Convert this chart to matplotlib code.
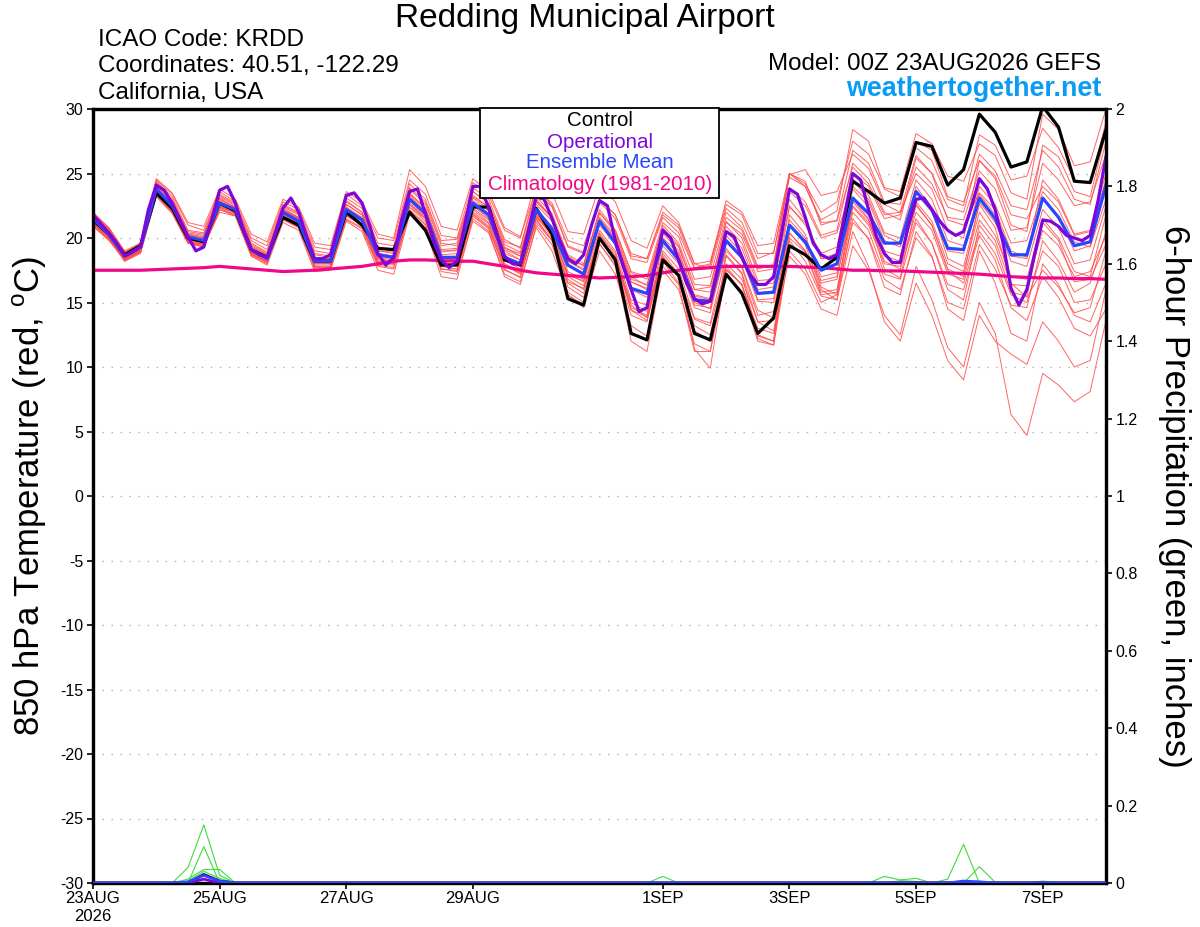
import numpy as np
import matplotlib
matplotlib.use("Agg")
import matplotlib.pyplot as plt
from matplotlib.patches import Rectangle

plt.rcParams['font.family'] = ['Liberation Sans', 'DejaVu Sans']
plt.rcParams['axes.unicode_minus'] = False
plt.rcParams['mathtext.fontset'] = 'custom'
plt.rcParams['mathtext.rm'] = 'Liberation Sans'

# ---------------- data ----------------
tick_pos = [0, 8, 16, 24, 36, 44, 52, 60]          # 6-hourly step index
tick_labels = ["23AUG\n2026", "25AUG", "27AUG", "29AUG", "1SEP", "3SEP", "5SEP", "7SEP"]

control = [21.4, 20.3, 18.7, 19.4, 23.5, 22.3, 20.0, 19.7, 22.7, 22.1, 19.1, 18.5, 21.6, 21.0, 18.2, 18.2,
           22.0, 21.0, 19.2, 19.1, 22.0, 20.6, 17.9, 17.9, 22.4, 22.4, 18.3, 17.9, 22.3, 20.3, 15.3, 14.8,
           20.0, 18.3, 12.6, 12.1, 18.3, 17.1, 12.6, 12.1, 17.2, 15.7, 12.6, 13.8, 19.4, 18.7, 17.6, 18.5,
           24.4, 23.6, 22.7, 23.1, 27.4, 27.1, 24.1, 25.3, 29.6, 28.2, 25.5, 25.9, 30.2, 28.6, 24.4, 24.3, 28.4]

ens_mean = [21.5, 20.3, 18.6, 19.3, 23.8, 22.5, 20.1, 19.8, 22.7, 22.2, 19.1, 18.4, 22.0, 21.3, 18.2, 18.2,
            22.2, 21.4, 18.7, 18.5, 23.0, 21.9, 18.5, 18.5, 22.7, 21.8, 18.5, 18.0, 22.2, 20.7, 17.9, 17.2,
            21.3, 19.6, 16.1, 15.7, 19.8, 18.3, 15.2, 15.1, 19.8, 18.5, 15.7, 15.8, 21.0, 19.7, 17.5, 18.0,
            23.1, 21.9, 19.6, 19.6, 23.6, 22.2, 19.2, 19.1, 23.1, 21.5, 18.7, 18.7, 23.1, 21.6, 19.4, 19.7, 24.1]

# operational run, 3-hourly
operational = [21.8, 21.1, 20.4, 19.6, 18.6, 18.9, 19.3, 22.2, 24.1, 23.7, 22.7, 21.4, 20.1, 19.0, 19.3, 21.4,
               23.7, 24.0, 22.7, 20.6, 19.1, 18.7, 18.5, 20.3, 22.3, 23.1, 22.0, 20.1, 18.4, 18.4, 18.7, 20.9,
               23.3, 23.5, 22.7, 20.9, 18.8, 17.9, 18.5, 21.4, 23.6, 23.8, 21.9, 19.8, 18.3, 17.7, 18.2, 21.1,
               24.0, 24.0, 22.3, 20.3, 18.6, 18.0, 18.0, 20.5, 23.2, 23.0, 21.5, 19.8, 18.4, 18.0, 18.7, 21.0,
               22.9, 22.5, 19.8, 17.8, 16.0, 14.3, 14.6, 17.8, 20.6, 20.0, 18.3, 16.5, 15.3, 14.9, 15.1, 17.8,
               20.5, 20.1, 18.5, 17.2, 16.4, 16.4, 17.0, 20.3, 23.8, 23.4, 21.6, 19.6, 18.7, 18.4, 18.7, 21.9,
               25.0, 24.5, 22.2, 20.1, 18.8, 18.1, 18.1, 20.9, 23.0, 23.1, 22.2, 21.3, 20.6, 20.2, 20.5, 22.4,
               24.6, 23.8, 22.2, 19.6, 16.1, 14.8, 16.0, 18.8, 21.4, 21.3, 20.9, 20.2, 20.0, 19.8, 20.2, 22.9,
               26.3]

climatology = [17.5, 17.5, 17.5, 17.5, 17.55, 17.6, 17.65, 17.7, 17.8, 17.7, 17.6, 17.5, 17.4, 17.45, 17.5, 17.6,
               17.7, 17.8, 18.0, 18.2, 18.3, 18.3, 18.25, 18.2, 18.2, 18.0, 17.8, 17.5, 17.3, 17.2, 17.1, 17.0,
               16.9, 16.95, 17.0, 17.1, 17.3, 17.5, 17.6, 17.7, 17.8, 17.8, 17.8, 17.8, 17.8, 17.75, 17.7, 17.6,
               17.5, 17.5, 17.45, 17.45, 17.4, 17.35, 17.3, 17.25, 17.2, 17.1, 17.0, 16.95, 16.9, 16.9, 16.85, 16.85, 16.8]

m01 = [21.8, 20.6, 18.8, 19.5, 24.3, 23.0, 20.5, 20.3, 23.3, 22.6, 19.6, 18.9, 22.5, 21.9, 18.8, 18.6, 22.9, 22.0, 19.3, 19.0, 23.8, 22.6, 19.4, 19.6, 23.9, 23.0, 19.9, 19.2, 23.6, 22.4, 19.3, 18.8, 22.8, 21.5, 18.4, 18.1, 21.6, 20.4, 17.6, 17.9, 22.3, 21.2, 18.4, 18.9, 24.7, 24.0, 21.4, 22.1, 28.4, 27.5, 23.9, 23.6, 28.1, 27.3, 24.8, 24.4, 27.3, 26.4, 23.5, 23.0, 29.6, 28.4, 25.6, 25.9, 30.0]
m02 = [21.2, 20.0, 18.3, 19.0, 23.5, 22.2, 19.8, 19.5, 22.4, 21.9, 18.8, 18.1, 21.6, 21.0, 17.9, 17.9, 21.7, 21.0, 18.2, 18.0, 22.4, 21.5, 18.0, 17.9, 22.0, 21.1, 17.9, 17.2, 21.5, 19.8, 16.8, 16.0, 20.0, 18.5, 15.0, 14.3, 18.5, 17.0, 13.7, 13.2, 17.8, 16.3, 13.0, 12.6, 18.6, 17.2, 14.5, 14.0, 19.4, 17.5, 14.0, 12.5, 17.8, 15.2, 11.5, 10.0, 15.0, 12.6, 6.3, 4.7, 9.5, 8.6, 7.3, 8.1, 13.6]
m03 = [21.0, 19.9, 18.2, 18.8, 23.2, 21.9, 19.6, 19.4, 22.0, 21.7, 18.6, 17.9, 21.2, 20.6, 17.4, 17.5, 21.3, 20.5, 17.5, 17.2, 21.8, 20.7, 17.0, 16.8, 21.5, 20.5, 17.0, 16.4, 21.0, 19.5, 15.8, 15.0, 19.5, 18.0, 14.0, 13.5, 18.6, 17.0, 13.2, 12.5, 18.0, 16.8, 13.5, 12.8, 19.8, 18.2, 15.5, 15.2, 20.5, 17.8, 13.5, 12.0, 16.5, 14.0, 10.5, 9.0, 14.0, 12.0, 11.0, 10.2, 13.5, 12.0, 10.0, 10.5, 16.0]
m04 = [21.6, 20.4, 18.7, 19.4, 23.9, 22.7, 20.3, 20.0, 22.9, 22.4, 19.4, 18.7, 22.3, 21.6, 18.5, 18.4, 22.6, 21.8, 19.0, 18.9, 23.5, 22.3, 19.0, 19.0, 23.2, 22.4, 19.3, 18.6, 23.0, 21.6, 18.6, 17.8, 22.2, 20.6, 17.3, 16.8, 20.8, 19.4, 16.0, 15.8, 20.9, 19.6, 16.4, 16.5, 22.5, 21.0, 18.8, 19.3, 25.0, 24.0, 21.5, 21.8, 25.5, 24.2, 21.6, 21.4, 25.2, 23.8, 20.6, 20.8, 25.8, 24.5, 22.5, 22.8, 26.5]
m05 = [20.9, 19.8, 18.4, 19.0, 23.4, 22.0, 19.6, 19.3, 22.2, 21.7, 18.6, 18.0, 21.5, 20.8, 17.6, 17.6, 21.4, 20.7, 17.8, 17.6, 22.0, 20.8, 17.4, 17.2, 21.3, 20.4, 17.2, 16.6, 20.8, 19.0, 15.6, 14.8, 19.0, 17.2, 13.2, 12.4, 17.5, 16.0, 11.8, 11.2, 17.2, 15.9, 12.0, 11.7, 19.0, 17.6, 15.0, 15.6, 21.2, 20.0, 16.8, 16.0, 20.0, 18.5, 15.0, 14.5, 19.5, 17.6, 14.8, 14.6, 19.8, 18.2, 15.8, 16.5, 20.5]
m06 = [21.9, 20.7, 18.9, 19.6, 24.5, 23.4, 21.0, 20.6, 23.6, 22.8, 20.0, 19.4, 22.8, 22.2, 19.3, 19.1, 23.4, 22.5, 20.0, 19.8, 24.5, 23.4, 20.2, 20.0, 24.3, 23.3, 20.6, 20.0, 24.6, 23.5, 20.5, 20.3, 24.0, 22.8, 19.8, 19.2, 22.5, 21.2, 18.0, 17.6, 22.0, 20.8, 17.8, 17.9, 25.0, 24.2, 22.0, 22.8, 27.5, 26.5, 23.8, 23.2, 27.0, 26.0, 23.0, 22.5, 28.0, 27.2, 24.5, 24.8, 28.5, 27.0, 24.5, 24.2, 29.0]
m07 = [21.3, 20.1, 18.4, 19.1, 23.6, 22.3, 19.9, 19.6, 22.5, 22.0, 18.9, 18.3, 21.8, 21.1, 18.0, 18.1, 21.9, 21.1, 18.3, 18.2, 22.6, 21.6, 18.2, 18.4, 22.3, 21.4, 18.3, 17.9, 21.9, 20.2, 17.0, 16.3, 20.3, 18.6, 14.8, 13.8, 18.2, 16.5, 12.8, 12.0, 17.5, 16.4, 12.5, 12.0, 20.4, 19.0, 16.5, 16.8, 22.5, 21.2, 18.6, 18.2, 22.8, 21.3, 18.0, 17.4, 22.0, 20.2, 17.0, 16.8, 21.5, 20.0, 17.4, 17.0, 21.8]
m08 = [21.7, 20.5, 18.6, 19.3, 24.0, 22.8, 20.2, 20.0, 23.1, 22.3, 19.2, 18.6, 22.1, 21.5, 18.4, 18.3, 22.4, 21.6, 18.8, 18.6, 23.2, 22.0, 18.9, 19.1, 22.9, 22.1, 19.0, 18.3, 22.6, 21.3, 18.2, 17.6, 21.6, 20.2, 16.8, 16.4, 20.5, 19.3, 16.0, 16.2, 21.2, 20.3, 17.4, 17.6, 24.9, 25.3, 23.3, 23.6, 26.5, 25.4, 22.6, 22.0, 26.4, 25.0, 21.4, 21.0, 23.5, 22.2, 19.0, 18.5, 24.5, 23.0, 20.3, 20.6, 25.0]
m09 = [21.4, 20.3, 18.5, 19.2, 23.7, 22.5, 20.0, 19.8, 22.6, 22.1, 19.0, 18.4, 21.9, 21.2, 18.1, 18.0, 22.0, 21.3, 18.5, 18.3, 22.9, 21.8, 18.3, 18.2, 22.6, 21.6, 18.4, 17.8, 22.3, 20.9, 17.4, 16.8, 21.0, 19.5, 16.0, 15.4, 19.4, 18.0, 14.6, 14.2, 19.7, 18.4, 15.1, 15.0, 21.4, 20.0, 17.0, 17.3, 23.8, 22.4, 19.0, 18.6, 22.5, 21.0, 17.5, 16.5, 20.5, 18.8, 15.6, 15.0, 19.0, 17.8, 15.0, 15.2, 18.0]
m10 = [22.0, 20.8, 18.9, 19.5, 24.4, 23.2, 20.6, 20.4, 23.4, 22.7, 19.8, 19.1, 22.6, 22.0, 19.0, 18.8, 23.1, 22.3, 19.6, 19.4, 24.2, 23.0, 19.8, 19.9, 23.6, 22.7, 19.5, 18.9, 23.2, 21.9, 18.7, 18.0, 22.0, 20.4, 17.0, 16.3, 21.0, 19.6, 16.4, 16.3, 21.3, 20.0, 16.7, 16.8, 23.0, 21.4, 18.4, 18.8, 24.5, 23.0, 20.2, 19.6, 24.0, 22.3, 18.4, 17.8, 22.6, 20.8, 16.5, 15.4, 17.5, 16.2, 14.2, 14.6, 19.0]
m11 = [21.1, 20.0, 18.3, 18.9, 23.3, 22.1, 19.7, 19.5, 22.3, 21.8, 18.7, 18.2, 21.7, 21.1, 18.0, 18.0, 22.1, 21.4, 18.6, 18.5, 22.7, 21.7, 18.5, 18.6, 22.8, 21.9, 18.8, 18.3, 22.0, 20.5, 17.2, 16.6, 21.3, 19.9, 16.6, 16.0, 20.0, 18.8, 15.6, 15.3, 20.5, 19.2, 16.0, 16.2, 23.6, 22.5, 20.0, 20.4, 24.0, 22.8, 19.8, 19.3, 23.5, 22.0, 19.0, 18.8, 24.0, 22.6, 19.6, 19.8, 23.6, 22.2, 19.7, 19.3, 23.0]
m12 = [21.5, 20.4, 18.6, 19.2, 23.8, 22.6, 20.1, 19.9, 22.8, 22.3, 19.2, 18.6, 22.2, 21.5, 18.4, 18.3, 22.3, 21.5, 18.8, 18.6, 23.3, 22.1, 18.7, 18.8, 23.1, 22.2, 19.1, 18.6, 22.8, 21.6, 18.4, 17.9, 21.9, 20.6, 17.4, 17.0, 21.2, 20.1, 16.8, 17.0, 21.6, 20.6, 17.6, 17.9, 23.9, 22.8, 20.2, 20.6, 25.8, 24.6, 22.0, 21.4, 26.2, 25.0, 22.4, 22.0, 26.5, 25.2, 22.5, 22.2, 26.8, 25.5, 23.0, 22.6, 27.5]
m13 = [21.2, 20.1, 18.4, 19.0, 23.5, 22.3, 19.8, 19.5, 22.4, 21.9, 18.8, 18.2, 21.6, 21.0, 17.8, 17.7, 21.8, 21.0, 18.0, 17.9, 22.2, 21.1, 17.6, 17.4, 21.7, 20.7, 17.5, 17.0, 21.4, 19.8, 15.6, 14.6, 19.6, 17.8, 12.0, 11.2, 17.8, 16.4, 11.2, 11.2, 18.6, 17.2, 12.2, 11.7, 20.0, 18.9, 15.6, 15.8, 22.0, 20.6, 17.2, 16.8, 21.2, 19.6, 16.0, 15.2, 21.0, 19.4, 15.8, 15.5, 21.2, 19.8, 16.6, 16.8, 19.5]
m14 = [21.3, 20.2, 18.5, 19.1, 23.6, 22.4, 19.9, 19.7, 22.7, 22.1, 19.0, 18.4, 21.8, 21.2, 18.2, 18.0, 22.1, 21.3, 18.4, 18.2, 22.6, 21.5, 18.1, 18.0, 22.2, 21.2, 18.0, 17.4, 21.7, 20.3, 16.5, 15.7, 20.4, 18.8, 14.4, 13.6, 18.8, 17.2, 11.4, 9.9, 17.6, 16.4, 12.4, 12.0, 21.8, 20.3, 16.2, 15.6, 23.0, 21.5, 17.6, 16.9, 22.6, 21.0, 17.6, 17.0, 22.8, 21.2, 18.2, 17.8, 22.2, 20.8, 18.0, 18.3, 22.5]
m15 = [21.8, 20.6, 18.7, 19.4, 24.1, 22.9, 20.4, 20.2, 23.2, 22.5, 19.5, 18.8, 22.4, 21.8, 18.7, 18.5, 22.8, 22.0, 19.2, 19.0, 23.9, 22.8, 19.6, 19.4, 23.6, 22.7, 19.7, 19.3, 23.9, 22.5, 19.4, 18.9, 23.0, 21.8, 18.8, 18.4, 22.0, 21.0, 18.0, 18.2, 22.6, 21.8, 18.8, 18.8, 25.0, 24.4, 21.0, 21.4, 26.8, 25.8, 22.8, 22.6, 27.5, 26.8, 23.2, 22.8, 26.0, 24.6, 21.0, 20.5, 27.2, 26.3, 23.6, 23.2, 28.2]
m16 = [21.0, 19.9, 18.3, 18.9, 23.3, 22.0, 19.6, 19.3, 22.2, 21.8, 18.7, 18.1, 21.4, 20.8, 17.8, 17.7, 21.5, 20.8, 17.9, 17.7, 22.1, 21.0, 17.6, 17.5, 21.9, 20.9, 17.8, 17.3, 21.2, 19.8, 16.6, 16.1, 20.0, 18.3, 14.4, 13.9, 19.6, 18.4, 14.8, 14.6, 19.2, 17.7, 14.0, 14.3, 21.0, 19.8, 16.7, 17.0, 22.8, 21.4, 18.2, 17.6, 21.5, 19.6, 16.4, 16.0, 20.2, 18.3, 14.6, 13.6, 17.0, 15.4, 13.0, 12.4, 14.5]
m17 = [21.9, 20.8, 19.0, 19.6, 24.6, 23.5, 21.2, 20.9, 23.8, 23.0, 20.3, 19.7, 23.0, 22.4, 19.6, 19.4, 23.6, 22.8, 20.3, 20.0, 25.3, 24.0, 20.9, 20.6, 24.6, 23.6, 20.8, 20.1, 23.8, 22.7, 19.8, 19.4, 22.9, 21.8, 18.6, 18.4, 21.8, 20.8, 17.7, 18.0, 22.9, 22.0, 19.4, 19.6, 25.0, 24.0, 21.2, 21.3, 25.5, 24.2, 21.8, 22.0, 25.0, 23.8, 20.6, 20.0, 26.0, 24.8, 21.8, 21.5, 24.0, 22.8, 20.2, 20.5, 24.5]
m18 = [21.4, 20.2, 18.4, 19.0, 23.6, 22.4, 20.0, 19.6, 22.6, 22.0, 18.8, 18.2, 21.6, 20.9, 17.7, 17.8, 21.8, 20.9, 18.1, 18.0, 22.4, 21.3, 17.8, 17.6, 21.8, 20.8, 17.6, 16.9, 21.6, 20.4, 17.1, 16.7, 20.6, 19.0, 15.2, 14.8, 19.8, 18.5, 15.0, 14.5, 19.0, 17.8, 14.4, 13.8, 21.0, 19.5, 16.0, 15.2, 21.5, 19.9, 16.2, 15.6, 20.5, 18.6, 14.5, 13.6, 19.0, 16.5, 12.6, 12.0, 18.0, 16.4, 14.0, 13.5, 16.5]
m19 = [21.7, 20.5, 18.7, 19.4, 24.2, 22.9, 20.3, 20.1, 23.0, 22.4, 19.3, 18.7, 22.2, 21.6, 18.5, 18.4, 22.6, 21.8, 19.0, 18.8, 23.4, 22.3, 19.1, 19.2, 23.3, 22.4, 19.2, 18.8, 22.9, 21.5, 18.2, 17.5, 21.5, 20.0, 16.6, 16.1, 20.4, 19.0, 15.5, 15.2, 20.2, 18.8, 15.2, 15.3, 22.4, 21.2, 18.4, 18.6, 24.6, 23.3, 20.4, 20.0, 24.5, 23.0, 19.8, 19.4, 23.4, 21.8, 18.6, 18.4, 23.0, 21.6, 19.0, 19.4, 23.8]
m20 = [21.2, 20.0, 18.2, 18.9, 23.4, 22.2, 19.7, 19.4, 22.5, 22.0, 18.9, 18.3, 21.9, 21.3, 18.2, 18.2, 22.2, 21.4, 18.6, 18.4, 23.0, 21.8, 18.5, 18.3, 22.5, 21.5, 18.3, 17.6, 21.8, 20.0, 16.2, 15.4, 19.9, 18.3, 14.6, 14.0, 19.0, 17.6, 13.8, 13.4, 18.7, 17.3, 13.5, 13.6, 20.4, 19.0, 15.8, 16.0, 22.4, 21.0, 18.0, 17.8, 22.0, 20.6, 17.2, 16.8, 21.4, 19.8, 16.4, 16.3, 20.6, 19.4, 17.0, 17.4, 20.2]
members = [m01, m02, m03, m04, m05, m06, m07, m08, m09, m10,
           m11, m12, m13, m14, m15, m16, m17, m18, m19, m20]

# 6-hour precipitation (inches): non-zero amounts by step index, all else zero
precip_member_events = [
    {6: 0.04, 7: 0.15, 8: 0.02},
    {7: 0.094},
    {6: 0.01, 7: 0.035, 8: 0.035},
    {6: 0.005, 7: 0.03, 8: 0.012},
    {36: 0.017},
    {50: 0.017, 51: 0.008, 52: 0.012},
    {54: 0.01, 55: 0.10},
    {56: 0.042, 57: 0.002},
    {60: 0.005},
    {51: 0.006, 52: 0.004},
]
precip_control_events = {7: 0.022, 8: 0.005}
precip_mean_events = {6: 0.003, 7: 0.02, 8: 0.005, 55: 0.005, 56: 0.003}
precip_oper_events = {7: 0.01}

NSTEP = 65

def to_series(ev):
    s = np.zeros(NSTEP)
    for k, v in ev.items():
        s[k] = v
    return s

# ---------------- figure ----------------
W, H = 1200, 927
fig = plt.figure(figsize=(W / 100, H / 100), dpi=100)
L, R, T, B = 93, 1106, 109, 883
ax = fig.add_axes([L / W, 1 - B / H, (R - L) / W, (B - T) / H])
ax2 = ax.twinx()

x6 = np.arange(NSTEP)
x3 = np.arange(len(operational)) / 2.0

red = '#FF4A4A'
for m in members:
    ax.plot(x6, m, color=red, lw=0.7, alpha=0.85, zorder=2)
ax.plot(x6, climatology, color='#F0078A', lw=2.3, zorder=3)
ax.plot(x6, control, color='black', lw=2.3, zorder=4)
ax.plot(x6, ens_mean, color='#2845FF', lw=2.3, zorder=5)
ax.plot(x3, operational, color='#7E06DA', lw=2.3, zorder=6)

ax.set_xlim(0, 64)
ax.set_ylim(-30, 30)
ax.set_yticks(np.arange(-30, 31, 5))
ax.set_yticklabels([str(v) for v in range(-30, 31, 5)])
ax.set_xticks(tick_pos)
ax.set_xticklabels(tick_labels)
for yv in range(-25, 30, 5):
    ax.axhline(yv, color='#b0b0b0', lw=1.0, dashes=(1, 5.5), zorder=1)

# precipitation
green = '#3EDB3E'
for ev in precip_member_events:
    ax2.plot(x6, to_series(ev), color=green, lw=0.8, zorder=2)
ax2.plot(x6, to_series(precip_control_events), color='black', lw=2.0, zorder=3)
ax2.plot(x6, to_series(precip_oper_events), color='#7E06DA', lw=2.0, zorder=4)
ax2.plot(x6, to_series(precip_mean_events), color='#2845FF', lw=2.0, zorder=5)
ax2.set_ylim(0, 2)
ax2.set_yticks(np.arange(0, 2.01, 0.2))
ax2.set_yticklabels(['0', '0.2', '0.4', '0.6', '0.8', '1', '1.2', '1.4', '1.6', '1.8', '2'])
ax2.set_xlim(0, 64)

for a in (ax, ax2):
    for s in a.spines.values():
        s.set_linewidth(2.3)
    a.tick_params(axis='y', labelsize=11.5, length=4, width=1.2, direction='out', pad=3)
ax.tick_params(axis='x', labelsize=12, length=4, width=1.2, direction='out', pad=2)

# axis labels
fig.text(30 / W, 1 - 496 / H, r'850 hPa Temperature (red, $^{\rm o}$C)', rotation=90,
         ha='center', va='center', fontsize=25)
fig.text(1174 / W, 1 - 496 / H, '6-hour Precipitation (green, inches)', rotation=270,
         ha='center', va='center', fontsize=25)

# header texts
fig.text(585 / W, 1 - 18 / H, 'Redding Municipal Airport', ha='center', va='center', fontsize=24)
fig.text(98 / W, 1 - 40 / H, 'ICAO Code: KRDD', ha='left', va='center', fontsize=17.5)
fig.text(98 / W, 1 - 66 / H, 'Coordinates: 40.51, -122.29', ha='left', va='center', fontsize=17.5)
fig.text(98 / W, 1 - 93 / H, 'California, USA', ha='left', va='center', fontsize=17.5)
fig.text(1101 / W, 1 - 64 / H, 'Model: 00Z 23AUG2026 GEFS', ha='right', va='center', fontsize=17.4)
fig.text(1101 / W, 1 - 89 / H, 'weathertogether.net', ha='right', va='center', fontsize=19.4,
         fontweight='bold', color='#0A9BF5')

# legend box
fig.patches.append(Rectangle((480 / W, 1 - 198 / H), 239 / W, 90 / H, transform=fig.transFigure,
                             facecolor='white', edgecolor='black', lw=1.3, zorder=10))
leg = [('Control', 'black', 121), ('Operational', '#7E06DA', 142),
       ('Ensemble Mean', '#2845FF', 163), ('Climatology (1981-2010)', '#F0078A', 185)]
for txt, col, yy in leg:
    fig.text(600 / W, 1 - yy / H, txt, ha='center', va='center', fontsize=14.8, color=col, zorder=11)

fig.savefig('out.png', dpi=100)
